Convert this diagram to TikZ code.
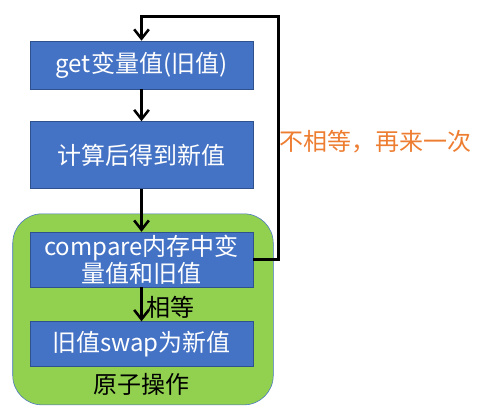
\documentclass[tikz,border=0pt]{standalone}
\usepackage{fontspec}
\setmainfont{Noto Sans CJK SC}
\usetikzlibrary{arrows.meta,positioning,calc,backgrounds}
\definecolor{boxblue}{RGB}{68,114,196}
\definecolor{boxedge}{RGB}{47,82,143}
\definecolor{atomgreen}{RGB}{146,208,80}
\definecolor{retryorange}{RGB}{237,125,49}

\begin{document}
\begin{tikzpicture}[>={Straight Barb[length=7pt,width=11pt]},
  procbox/.style={draw=boxedge,fill=boxblue,text=white,minimum width=167.25pt,inner sep=0pt,align=center,font=\fontsize{18}{20.5}\selectfont},
  flow/.style={->,line width=1.9pt},
  bigtext/.style={font=\fontsize{18}{20.5}\selectfont}]
\useasboundingbox (0,0) rectangle (371.25pt,-312pt);
\node[procbox,minimum height=36pt] (get) at (106.125pt,-48.75pt) {get变量值(旧值)};
\node[procbox,minimum height=50.25pt,below=24pt of get] (compute) {计算后得到新值};
\node[procbox,minimum height=41.25pt,below=32.25pt of compute] (cmp) {compare内存中变\\量值和旧值};
\node[procbox,minimum height=33.75pt,below=25.5pt of cmp] (swap) {旧值swap为新值};
\node[bigtext,inner sep=0pt,below=5pt of swap] (atom) {原子操作};
% atomic block behind the last two steps
\begin{scope}[on background layer]
\draw[boxblue,fill=atomgreen,rounded corners=22pt] ($(cmp.north west)+(-12.75pt,13.5pt)$) rectangle ($(swap.south east)+(15pt,-28.5pt)$);
\end{scope}
\draw[flow] (get) -- (compute);
\draw[flow] (compute) -- (cmp);
\draw[flow] (cmp) -- node[bigtext,right,inner sep=3pt,yshift=-2pt] {相等} (swap);
% retry loop
\coordinate[above right=18pt and 18.75pt of get.north east] (turn);
\draw[flow] (cmp.east) -| (turn) -| (get.north);
\node[bigtext,text=retryorange,anchor=west,inner sep=1pt] (retry) at ($(turn |- compute)+(0,10pt)$) {不相等，再来一次};
\end{tikzpicture}
\end{document}
